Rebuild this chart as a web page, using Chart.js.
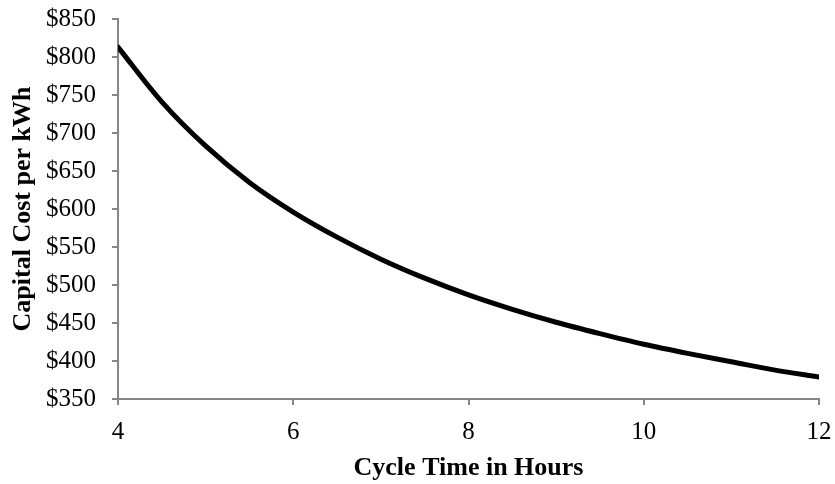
<!DOCTYPE html>
<html>
<head>
<meta charset="utf-8">
<script src="https://cdn.jsdelivr.net/npm/chart.js@4"></script>
<style>
  html, body { margin: 0; padding: 0; background: #ffffff; }
  #wrap { width: 835px; height: 484px; position: relative; }
</style>
</head>
<body>
<div id="wrap"><canvas id="c" width="835" height="484"></canvas></div>
<script>
// Data
const cycleHours = [4, 4.5, 5, 5.5, 6, 6.5, 7, 7.5, 8, 8.5, 9, 9.5, 10, 10.5, 11, 11.5, 12];
const costPerKWh = [813, 741, 683, 635, 596, 563, 534, 509, 487, 468, 451, 436, 422, 410, 399, 388, 379];
const xTitle = 'Cycle Time in Hours';
const yTitle = 'Capital Cost per kWh';

const points = cycleHours.map((h, i) => ({ x: h, y: costPerKWh[i] }));
const axisGray = '#868686';
const serif = "'Liberation Serif', 'Times New Roman', serif";

new Chart(document.getElementById('c'), {
  type: 'line',
  data: {
    datasets: [{
      data: points,
      borderColor: '#000000',
      borderWidth: 5,
      borderCapStyle: 'round',
      borderJoinStyle: 'round',
      pointRadius: 0,
      fill: false,
      cubicInterpolationMode: 'monotone'
    }]
  },
  options: {
    responsive: false,
    animation: false,
    devicePixelRatio: 1,
    layout: { padding: { left: 8, right: 16, top: 19, bottom: 0 } },
    plugins: { legend: { display: false }, tooltip: { enabled: false } },
    scales: {
      x: {
        type: 'linear',
        min: 4, max: 12,
        border: { display: true, color: axisGray, width: 2 },
        grid: { display: true, drawOnChartArea: false, drawTicks: true, tickLength: 6, color: axisGray, lineWidth: 2 },
        ticks: { stepSize: 2, color: '#000', padding: 12, font: { family: serif, size: 25 } },
        title: { display: true, text: xTitle, color: '#000', padding: { top: 0, bottom: 0 }, font: { family: serif, size: 26, weight: 'bold' } },
        afterFit: s => { s.height = 85; s.paddingLeft = 0; s.paddingRight = 0; }
      },
      y: {
        min: 350, max: 850,
        border: { display: true, color: axisGray, width: 2 },
        grid: { display: true, drawOnChartArea: false, drawTicks: true, tickLength: 6, color: axisGray, lineWidth: 2 },
        ticks: { stepSize: 50, color: '#000', padding: 16, font: { family: serif, size: 25 }, callback: v => '$' + v },
        title: { display: true, text: yTitle, color: '#000', padding: { top: 0, bottom: 0 }, font: { family: serif, size: 26, weight: 'bold' } },
        afterFit: s => { s.width = 110; s.paddingTop = 0; s.paddingBottom = 0; }
      }
    }
  }
});
</script>
</body>
</html>
